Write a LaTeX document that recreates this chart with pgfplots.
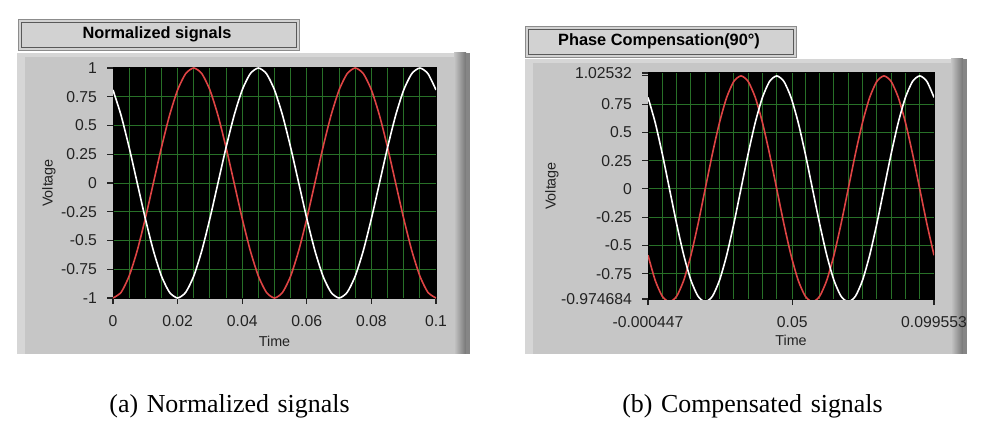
\documentclass[border=0pt]{standalone}
\usepackage{pgfplots}
\pgfplotsset{compat=1.18}
\usepackage{fontspec}
\setmainfont{Liberation Sans}
\newfontfamily\capfont{Liberation Serif}
\definecolor{panel}{RGB}{198,198,198}
\definecolor{panelhi}{RGB}{214,214,214}
\definecolor{paneldk}{RGB}{118,118,118}
\definecolor{titlefill}{RGB}{210,210,210}
\definecolor{gridgreen}{RGB}{40,112,40}
\definecolor{sigred}{RGB}{222,68,68}
\definecolor{tickgray}{RGB}{35,35,35}

\pgfplotstableread{
t red white
0 -1 0.8090
0.0025 -0.9511 0.5878
0.005 -0.8090 0.3090
0.0075 -0.5878 0
0.01 -0.3090 -0.3090
0.0125 0 -0.5878
0.015 0.3090 -0.8090
0.0175 0.5878 -0.9511
0.02 0.8090 -1
0.0225 0.9511 -0.9511
0.025 1 -0.8090
0.0275 0.9511 -0.5878
0.03 0.8090 -0.3090
0.0325 0.5878 0
0.035 0.3090 0.3090
0.0375 0 0.5878
0.04 -0.3090 0.8090
0.0425 -0.5878 0.9511
0.045 -0.8090 1
0.0475 -0.9511 0.9511
0.05 -1 0.8090
0.0525 -0.9511 0.5878
0.055 -0.8090 0.3090
0.0575 -0.5878 0
0.06 -0.3090 -0.3090
0.0625 0 -0.5878
0.065 0.3090 -0.8090
0.0675 0.5878 -0.9511
0.07 0.8090 -1
0.0725 0.9511 -0.9511
0.075 1 -0.8090
0.0775 0.9511 -0.5878
0.08 0.8090 -0.3090
0.0825 0.5878 0
0.085 0.3090 0.3090
0.0875 0 0.5878
0.09 -0.3090 0.8090
0.0925 -0.5878 0.9511
0.095 -0.8090 1
0.0975 -0.9511 0.9511
0.1 -1 0.8090
}\normtable

\pgfplotstableread{
t red white
-0.000447 -0.5878 0.8090
0.002053 -0.8090 0.5878
0.004553 -0.9511 0.3090
0.007053 -1 0
0.009553 -0.9511 -0.3090
0.012053 -0.8090 -0.5878
0.014553 -0.5878 -0.8090
0.017053 -0.3090 -0.9511
0.019553 0 -1
0.022053 0.3090 -0.9511
0.024553 0.5878 -0.8090
0.027053 0.8090 -0.5878
0.029553 0.9511 -0.3090
0.032053 1 0
0.034553 0.9511 0.3090
0.037053 0.8090 0.5878
0.039553 0.5878 0.8090
0.042053 0.3090 0.9511
0.044553 0 1
0.047053 -0.3090 0.9511
0.049553 -0.5878 0.8090
0.052053 -0.8090 0.5878
0.054553 -0.9511 0.3090
0.057053 -1 0
0.059553 -0.9511 -0.3090
0.062053 -0.8090 -0.5878
0.064553 -0.5878 -0.8090
0.067053 -0.3090 -0.9511
0.069553 0 -1
0.072053 0.3090 -0.9511
0.074553 0.5878 -0.8090
0.077053 0.8090 -0.5878
0.079553 0.9511 -0.3090
0.082053 1 0
0.084553 0.9511 0.3090
0.087053 0.8090 0.5878
0.089553 0.5878 0.8090
0.092053 0.3090 0.9511
0.094553 0 1
0.097053 -0.3090 0.9511
0.099553 -0.5878 0.8090
}\comptable

\pgfplotsset{labview/.style={
  scale only axis,
  anchor=south west,
  scaled ticks=false,
  axis background/.style={fill=black},
  axis line style={draw=black, line width=0.5bp},
  tick pos=left, tick align=outside,
  major tick length=3bp, minor tick length=0pt,
  major tick style={tickgray, line width=0.6bp},
  grid style={gridgreen, line width=0.5bp},
  minor grid style={gridgreen, line width=0.5bp},
  xmajorgrids, ymajorgrids, xminorgrids,
  ticklabel style={font=\fontsize{7.9}{9}\selectfont, text=tickgray},
  yticklabel style={xshift=-1.5bp},
  xticklabel style={yshift=-2bp},
  every axis plot/.append style={line width=0.8bp, smooth, tension=0.4},
}}

\begin{document}
\begin{tikzpicture}
\begin{scope}[x=0.5bp,y=-0.5bp]
\useasboundingbox (0,0) rectangle (997,429);
% left panel
\fill[panel] (17,53) rectangle (470,354);
\fill[panelhi] (17,53) rectangle (25,354);
\fill[panelhi] (17,53) rectangle (470,57);
\shade[left color=panel, right color=paneldk] (454,53) rectangle (466,354);
\fill[paneldk!80!panel] (466,53) rectangle (470,354);
% right panel
\fill[panel] (525,59) rectangle (967,354);
\fill[panelhi] (525,59) rectangle (533,354);
\fill[panelhi] (525,59) rectangle (967,63);
\shade[left color=panel, right color=paneldk] (951,59) rectangle (963,354);
\fill[paneldk!80!panel] (963,59) rectangle (967,354);
\end{scope}

\begin{axis}[labview,
  at={(56.5bp,-149bp)}, width=161.5bp, height=115bp,
  xmin=0, xmax=0.1, ymin=-1, ymax=1,
  xtick={0,0.02,0.04,0.06,0.08,0.1},
  xticklabels={0,0.02,0.04,0.06,0.08,0.1},
  minor x tick num=3,
  ytick={-1,-0.75,-0.5,-0.25,0,0.25,0.5,0.75,1},
  yticklabels={-1,-0.75,-0.5,-0.25,0,0.25,0.5,0.75,1},
  xlabel={Time}, ylabel={Voltage},
  every axis x label/.style={at={([yshift=-21.5bp]axis description cs:0.5,0)}, anchor=center, font=\fontsize{7.2}{9}\selectfont, text=tickgray},
  every axis y label/.style={at={([xshift=-32bp]axis description cs:0,0.5)}, anchor=center, rotate=90, font=\fontsize{7.2}{9}\selectfont, text=tickgray},
]
\addplot[sigred] table[x=t,y=red] {\normtable};
\addplot[white] table[x=t,y=white] {\normtable};
\end{axis}

\begin{axis}[labview,
  at={(324bp,-149.5bp)}, width=143bp, height=113bp,
  xmin=-0.000447, xmax=0.099553, ymin=-0.974684, ymax=1.02532,
  xtick={-0.000447,0.05,0.099553},
  xticklabels={-0.000447,0.05,0.099553},
  minor xtick={0.004553,0.009553,0.014553,0.019553,0.024553,0.029553,0.034553,0.039553,0.044553,0.054553,0.059553,0.064553,0.069553,0.074553,0.079553,0.084553,0.089553,0.094553},
  ytick={-0.974684,-0.75,-0.5,-0.25,0,0.25,0.5,0.75,1.02532},
  yticklabels={-0.974684,-0.75,-0.5,-0.25,0,0.25,0.5,0.75,1.02532},
  extra y ticks={1}, extra y tick labels={}, extra tick style={grid=none},
  xlabel={Time}, ylabel={Voltage},
  every axis x label/.style={at={([yshift=-20.5bp]axis description cs:0.5,0)}, anchor=center, font=\fontsize{7.2}{9}\selectfont, text=tickgray},
  every axis y label/.style={at={([xshift=-48bp]axis description cs:0,0.5)}, anchor=center, rotate=90, font=\fontsize{7.2}{9}\selectfont, text=tickgray},
]
\addplot[sigred] table[x=t,y=red] {\comptable};
\addplot[white] table[x=t,y=white] {\comptable};
\end{axis}

\begin{scope}[x=0.5bp,y=-0.5bp]
% title boxes
\filldraw[fill=titlefill, draw=black!45, line width=0.5bp] (18,20) rectangle (299,51);
\draw[black!65, line width=0.5bp] (21,23) rectangle (296,48);
\node[font=\bfseries\fontsize{8.2}{10}\selectfont, text=black] at (157,34) {Normalized signals};
\filldraw[fill=titlefill, draw=black!45, line width=0.5bp] (525,27) rectangle (796,58);
\draw[black!65, line width=0.5bp] (528,30) rectangle (793,55);
\node[font=\bfseries\fontsize{8.2}{10}\selectfont, text=black] at (659,41) {Phase Compensation(90°)};
% captions
\node[font=\capfont\fontsize{13}{15}\selectfont] at (229.5,406) {(a)\,\,Normalized\,\,signals};
\node[font=\capfont\fontsize{13}{15}\selectfont] at (752.5,406) {(b)\,\,Compensated\,\,signals};
\end{scope}
\end{tikzpicture}
\end{document}
